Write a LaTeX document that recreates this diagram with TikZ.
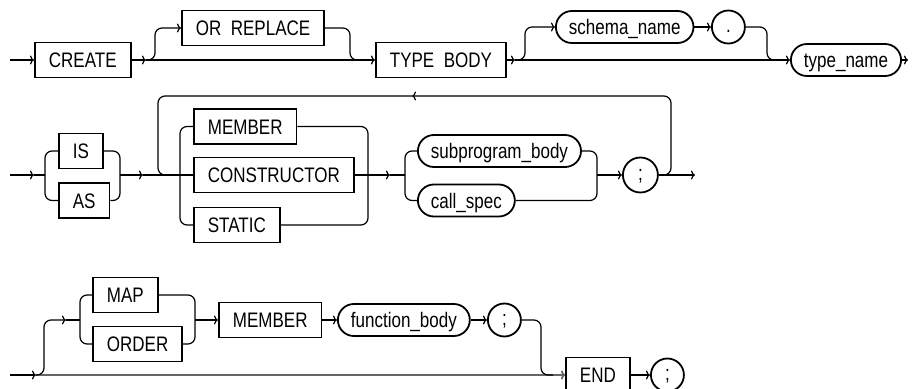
\documentclass[tikz,border=0pt]{standalone}
\usepackage{fontspec}
\setmainfont{Liberation Sans}[FakeStretch=0.81]
\usetikzlibrary{arrows.meta}

\tikzset{
  kw/.style={draw, line width=1.8pt, minimum height=35pt, inner xsep=14pt, inner ysep=0pt,
    text height=15pt, text depth=0pt, anchor=west},
  nt/.style={draw, line width=1.8pt, rounded corners=16pt, minimum height=32pt, inner xsep=13pt,
    inner ysep=0pt, text height=15pt, text depth=0pt, anchor=west},
  tm/.style={draw, line width=1.8pt, circle, minimum size=33pt, inner sep=0pt,
    text height=11pt, text depth=0pt, anchor=west},
  arr/.style={-{To[length=4pt,width=9pt]}},
  rc/.style={rounded corners=7pt},
  bottomrail/.style={draw=black!60, line width=1.8pt},
}

\begin{document}
\begin{tikzpicture}[x=1pt, y=-1pt, line width=1.2pt, font=\fontsize{21}{25}\selectfont]
\useasboundingbox (0,0) rectangle (917,388);
\clip (0,0) rectangle (917,388);
% Row 1: CREATE [OR REPLACE] TYPE BODY [schema_name .] type_name
\node[kw] (create) at (34,60) {CREATE};
\node[kw] (orreplace) at (181,28) {OR\hspace{0.45em}REPLACE};
\node[kw] (typebody) at (375,60) {TYPE\hspace{0.45em}BODY};
\node[nt] (schema) at (555,27) {schema\_name};
\node[tm] (dot) at (711,27) {.};
\node[nt] (typename) at (790,60) {type\_name};
\coordinate (in1) at (10,60);
\coordinate (j1) at (146,60);
\coordinate (j2) at (515,60);
\coordinate (out1) at (908,60);
\draw[arr] (in1) -- (create.west);
\draw[arr] (create.east) -- (j1);
\draw[arr] (j1) -- (typebody.west);
\draw[arr, rc] (j1) -| (155,28) -- (orreplace.west);
\draw[rc] (orreplace.east) -| (350,60) -- (362,60);
\draw[arr] (typebody.east) -- (j2);
\draw[arr] (j2) -- (typename.west);
\draw[arr, rc] (j2) -| (525,27) -- (schema.west);
\draw[arr] (schema.east) -- (dot.west);
\draw[rc] (dot.east) -| (767,60) -- (778,60);
\draw[arr] (typename.east) -- (out1);
% Row 2: IS|AS, repeated {MEMBER|CONSTRUCTOR|STATIC} body ;
\node[kw] (is) at (58,151) {IS};
\node[kw] (as) at (58,200.5) {AS};
\node[kw] (member) at (193,126.5) {MEMBER};
\node[kw] (constructor) at (193,175) {CONSTRUCTOR};
\node[kw] (static) at (193,225) {STATIC};
\node[nt] (subprog) at (417,151) {subprogram\_body};
\node[nt] (callspec) at (417,200.5) {call\_spec};
\node[tm, minimum size=35pt] (semi) at (622,175) {;};
\coordinate (in2) at (10,175);
\coordinate (a2) at (34,175);
\coordinate (j3) at (45,175);
\coordinate (m2) at (120,175);
\coordinate (a3) at (143,175);
\coordinate (j5) at (180,175);
\coordinate (m3) at (368,175);
\coordinate (a4) at (390,175);
\coordinate (j6) at (405,175);
\coordinate (m4) at (597,175);
\coordinate (j7) at (662,175);
\coordinate (out2) at (695,175);
\coordinate (lp) at (412,96);
\draw[arr] (in2) -- (a2);
\draw (a2) -- (j3);
\draw[rc] (j3) |- (is.west);
\draw[rc] (j3) |- (as.west);
\draw[rc] (is.east) -| (m2);
\draw[rc] (as.east) -| (m2);
\draw[arr] (m2) -- (a3);
\draw (a3) -- (constructor.west);
\draw[rc] (j5) |- (member.west);
\draw[rc] (j5) |- (static.west);
\draw[rc] (member.east) -| (m3);
\draw[rc] (static.east) -| (m3);
\draw[arr] (constructor.east) -- (a4);
\draw (a4) -- (j6);
\draw[rc] (j6) |- (subprog.west);
\draw[rc] (j6) |- (callspec.west);
\draw[rc] (subprog.east) -| (m4);
\draw[rc] (callspec.east) -| (m4);
\draw[arr] (m4) -- (semi.west);
\draw[arr] (semi.east) -- (out2);
% repeat loop
\draw[arr, rc] (j7) -| (671,96) -- (lp);
\draw[rc] (lp) -| (158,175) -- (168,175);
% Row 3: [MAP|ORDER MEMBER function_body ;] END ;
\node[kw] (map) at (92,295) {MAP};
\node[kw] (order) at (92,344) {ORDER};
\node[kw] (member2) at (218,320) {MEMBER};
\node[nt] (funcbody) at (337,320) {function\_body};
\node[tm] (semi2) at (487,320) {;};
\node[kw] (end) at (565,375) {END};
\node[tm] (semi3) at (650,375) {;};
\coordinate (in3) at (10,375);
\coordinate (a5) at (36,375);
\coordinate (a6) at (66,320);
\coordinate (j8) at (80,320);
\coordinate (m5) at (195,320);
\draw[bottomrail, arr] (a5) -- (end.west);
\draw[arr] (in3) -- (a5);
\draw[arr, rc] (a5) -| (44,320) -- (a6);
\draw (a6) -- (j8);
\draw[rc] (j8) |- (map.west);
\draw[rc] (j8) |- (order.west);
\draw[rc] (map.east) -| (m5);
\draw[rc] (order.east) -| (m5);
\draw[arr] (m5) -- (member2.west);
\draw[arr] (member2.east) -- (funcbody.west);
\draw[arr] (funcbody.east) -- (semi2.west);
\draw[rc] (semi2.east) -| (541,375) -- (553,375);
\draw[arr] (end.east) -- (semi3.west);
\end{tikzpicture}
\end{document}
